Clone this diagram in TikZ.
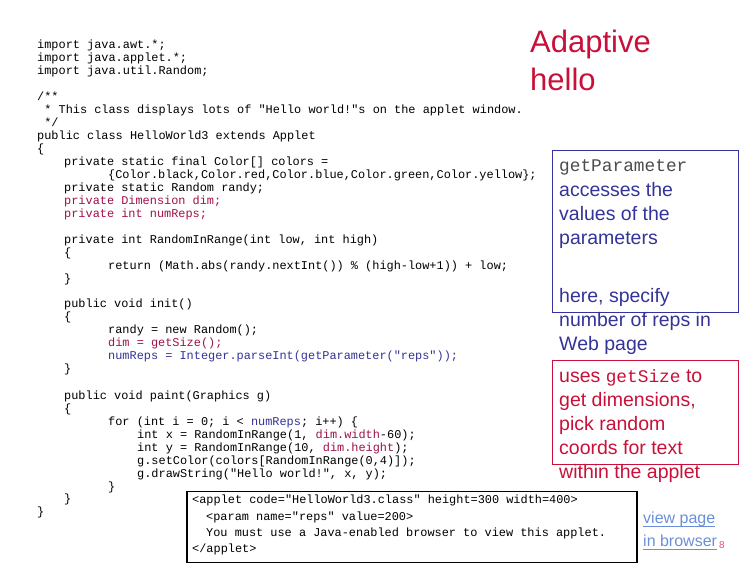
\documentclass[tikz,border=0pt]{standalone}
\usepackage{fontspec}
\setmainfont{Liberation Sans}
\setsansfont{Liberation Sans}
\setmonofont{Liberation Mono}
\definecolor{cred}{HTML}{A0104A}
\definecolor{cblue}{HTML}{333399}
\definecolor{nred}{HTML}{C8103A}
\definecolor{link}{HTML}{6A8FD8}
\tikzset{code/.style={anchor=base west,inner sep=0pt,font=\ttfamily\fontsize{11.9}{13}\selectfont},
 note/.style={anchor=base west,inner sep=0pt,font=\sffamily\fontsize{19.5}{24}\selectfont}}
\newcommand{\cl}[4]{\node[code] (#1) at (#2,{576-#3-4}) {#4};}
\newcommand{\nl}[4]{\node[note] (#1) at (#2,{576-#3-7}) {#4};}
\begin{document}
\begin{tikzpicture}[x=1pt,y=1pt]
\useasboundingbox (0,0) rectangle (756,576);
\cl{a1}{37}{45}{import java.awt.*;}
\cl{a2}{37}{58}{import java.applet.*;}
\cl{a3}{37}{71}{import java.util.Random;}
\cl{a4}{37}{97}{/**}
\cl{a5}{37}{110}{\ * This class displays lots of "Hello world!"s on the applet window.}
\cl{a6}{37}{123}{\ */}
\cl{a7}{37}{136}{public class HelloWorld3 extends Applet}
\cl{a8}{37}{149}{\{}
\cl{a9}{64}{162}{private static final Color[] colors =}
\cl{a10}{108}{175}{\{Color.black,Color.red,Color.blue,Color.green,Color.yellow\};}
\cl{a11}{64}{188}{private static Random randy;}
\cl{a12}{64}{201}{\color{cred}private Dimension dim;}
\cl{a13}{64}{214}{\color{cred}private int numReps;}
\cl{a14}{64}{240}{private int RandomInRange(int low, int high)}
\cl{a15}{64}{253}{\{}
\cl{a16}{108}{266}{return (Math.abs(randy.nextInt()) \% (high-low+1)) + low;}
\cl{a17}{64}{279}{\}}
\cl{a18}{64}{304}{public void init()}
\cl{a19}{64}{317}{\{}
\cl{a20}{108}{330}{randy = new Random();}
\cl{a21}{108}{343}{\color{cred}dim = getSize();}
\cl{a22}{108}{356}{\color{cblue}numReps = Integer.parseInt(getParameter("reps"));}
\cl{a23}{64}{369}{\}}
\cl{a24}{64}{396}{public void paint(Graphics g)}
\cl{a25}{64}{409}{\{}
\cl{a26}{108}{422}{for (int i = 0; i < \textcolor{cblue}{numReps}; i++) \{}
\cl{a27}{137}{435}{int x = RandomInRange(1, \textcolor{cred}{dim.width}-60);}
\cl{a28}{137}{448}{int y = RandomInRange(10, \textcolor{cred}{dim.height});}
\cl{a29}{137}{461}{g.setColor(colors[RandomInRange(0,4)]);}
\cl{a30}{137}{474}{g.drawString("Hello world!", x, y);}
\cl{a31}{108}{487}{\}}
\cl{a32}{64}{499}{\}}
\cl{a33}{37}{512}{\}}
% applet box
\node[draw=black,line width=1.5pt,anchor=north west,minimum width=450pt,minimum height=71pt,inner sep=0pt] (box) at (186,{576-491}) {};
\cl{b1}{192}{500}{<applet code="HelloWorld3.class" height=300 width=400>}
\cl{b2}{206}{517}{<param name="reps" value=200>}
\cl{b3}{206}{533}{You must use a Java-enabled browser to view this applet.}
\cl{b4}{192}{549}{</applet>}
% title
\node[anchor=base west,inner sep=0pt,font=\sffamily\fontsize{31}{37}\selectfont,text=nred,align=left] (t1) at (530,{576-53}) {Adaptive};
\node[anchor=base west,inner sep=0pt,font=\sffamily\fontsize{31}{37}\selectfont,text=nred] (t2) at (530,{576-91}) {hello};
% notes
\node[draw=cblue,line width=1.2pt,anchor=north west,minimum width=186pt,minimum height=162pt,inner sep=0pt] (bb) at (552,{576-150}) {};
\node[anchor=base west,inner sep=0pt,font=\ttfamily\fontsize{17.8}{20}\selectfont,text=black!70] (gp) at (559,{576-172}) {getParameter};
\begin{scope}[every node/.append style={text=cblue}]
\nl{n1}{559}{190}{accesses the}
\nl{n2}{559}{214}{values of the}
\nl{n3}{559}{238}{parameters}
\nl{n4}{559}{296}{here, specify}
\nl{n5}{559}{320}{number of reps in}
\nl{n6}{559}{344}{Web page}
\end{scope}
\node[draw=nred,line width=1.2pt,anchor=north west,minimum width=186pt,minimum height=104pt,inner sep=0pt] (rb) at (552,{576-360}) {};
\begin{scope}[every node/.append style={text=nred}]
\nl{r1}{559}{376}{uses {\ttfamily\fontsize{17.8}{20}\selectfont getSize} to}
\nl{r2}{559}{400}{get dimensions,}
\nl{r3}{559}{424}{pick random}
\nl{r4}{559}{448}{coords for text}
\nl{r5}{559}{472}{within the applet}
\end{scope}
\node[anchor=base west,inner sep=0pt,font=\sffamily\fontsize{16}{19}\selectfont,text=link] (v1) at (643,{576-524}) {view page};
\node[anchor=base west,inner sep=0pt,font=\sffamily\fontsize{16}{19}\selectfont,text=link] (v2) at (643,{576-547}) {in browser};
\draw[link,line width=0.8pt] (v1.base west)++(0,-2) -- ([yshift=-2pt]v1.base east);
\draw[link,line width=0.8pt] (v2.base west)++(0,-2) -- ([yshift=-2pt]v2.base east);
\node[anchor=base west,inner sep=0pt,font=\sffamily\fontsize{10}{12}\selectfont,text=nred!70] (pg) at (719,{576-549}) {8};
\end{tikzpicture}
\end{document}
